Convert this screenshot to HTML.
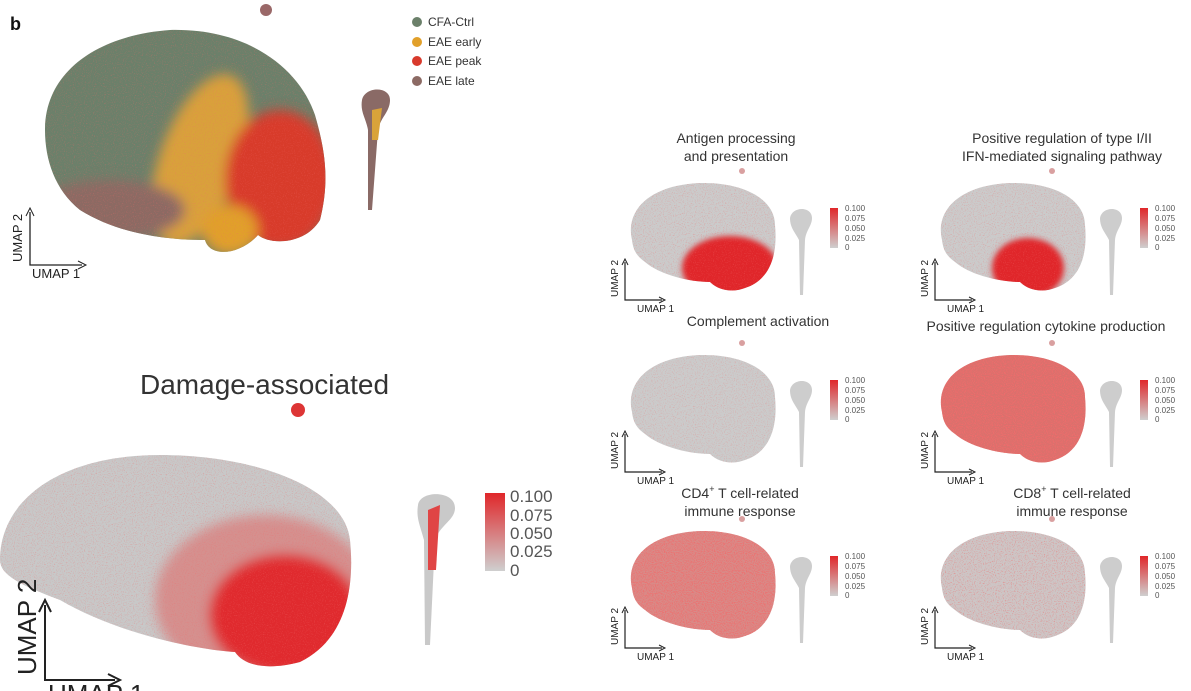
<!DOCTYPE html>
<html><head><meta charset="utf-8"><style>
body{margin:0;background:#fff;width:1191px;height:691px;overflow:hidden}
svg{display:block;font-family:"Liberation Sans",sans-serif}
</style></head><body>
<svg width="1191" height="691" viewBox="0 0 1191 691" xmlns="http://www.w3.org/2000/svg">
<defs>
<filter id="spk" x="0" y="0" width="100%" height="100%">
<feTurbulence type="fractalNoise" baseFrequency="0.9" numOctaves="1" seed="3"/>
<feColorMatrix values="0 0 0 0 0.88  0 0 0 0 0.15  0 0 0 0 0.15  4 0 0 0 -2.1"/>
</filter>
<filter id="spk2" x="0" y="0" width="100%" height="100%">
<feTurbulence type="fractalNoise" baseFrequency="0.9" numOctaves="1" seed="7"/>
<feColorMatrix values="0 0 0 0 0.88  0 0 0 0 0.15  0 0 0 0 0.15  4 0 0 0 -1.7"/>
</filter>
<filter id="bl" x="-30%" y="-30%" width="160%" height="160%"><feGaussianBlur stdDeviation="6"/></filter>
<filter id="bls" x="-30%" y="-30%" width="160%" height="160%"><feGaussianBlur stdDeviation="3"/></filter>
<linearGradient id="cb" x1="0" y1="0" x2="0" y2="1"><stop offset="0" stop-color="#e0272a"/><stop offset="1" stop-color="#cfcfcf"/></linearGradient>
<clipPath id="cs"><path d="M632,240 C625,210 650,185 700,183 C745,182 775,200 775,225 C778,255 770,280 745,288 C735,292 720,292 710,282 C690,282 660,275 645,262 C635,255 633,248 632,240Z"/></clipPath>
<clipPath id="cb1"><path d="M0,560 C0,500 60,455 160,455 C260,455 345,490 350,540 C355,590 345,640 300,662 C270,670 245,667 235,652 C200,650 120,635 60,600 C20,585 0,575 0,560Z"/></clipPath>
<clipPath id="ct"><path d="M45,130 C45,70 100,35 170,30 C250,28 300,70 315,115 C325,150 330,180 320,220 C305,245 270,245 258,235 C240,255 210,258 205,240 C170,240 120,235 80,210 C55,190 45,160 45,130Z"/></clipPath>
<g id="tail"><path d="M790,218 C792,206 812,206 812,218 C812,226 806,230 805,240 L803,295 L800,295 L799,240 C795,232 790,228 790,218Z" fill="#cdcdcd"/><circle cx="742" cy="171" r="3" fill="#d9a0a0"/></g>
<g id="cbar"><rect x="830" y="208" width="8" height="40" fill="url(#cb)"/>
<g font-size="8" fill="#555"><text x="845" y="211">0.100</text><text x="845" y="221">0.075</text><text x="845" y="231">0.050</text><text x="845" y="241">0.025</text><text x="845" y="250">0</text></g></g>
<g id="axs"><path d="M625,262 V300 H662" stroke="#222" stroke-width="1.2" fill="none"/><path d="M622,265 L625,259 L628,265 M659,297 L665,300 L659,303" stroke="#222" fill="none"/>
<text x="637" y="312" font-size="10" fill="#222">UMAP 1</text><text transform="translate(618,297) rotate(-90)" font-size="10" fill="#222">UMAP 2</text></g>
</defs>

<text x="10" y="30" font-size="18" font-weight="bold" fill="#111">b</text>

<g clip-path="url(#ct)">
<rect x="40" y="25" width="290" height="235" fill="#6b806a"/>
<g filter="url(#bl)">
<ellipse cx="200" cy="160" rx="40" ry="90" fill="#d9a13a" transform="rotate(20 200 160)"/>
<ellipse cx="280" cy="180" rx="55" ry="70" fill="#d83a2c"/>
<ellipse cx="230" cy="230" rx="28" ry="25" fill="#e1a02a"/>
<ellipse cx="110" cy="210" rx="75" ry="30" fill="#8c6a64"/>
</g>
<rect x="40" y="25" width="290" height="235" filter="url(#spk)" opacity="0.3"/>
</g>
<circle cx="266" cy="10" r="6" fill="#9a6868"/>
<path d="M362,100 C365,86 390,86 390,100 C390,112 380,118 378,130 L372,210 L368,210 L368,130 C366,118 360,112 362,100Z" fill="#8a6a66"/>
<path d="M372,110 L382,108 L378,140 L372,140Z" fill="#d9a33a"/>
<g font-size="12" fill="#333">
<circle cx="417" cy="22" r="5" fill="#6b806a"/><text x="428" y="26">CFA-Ctrl</text>
<circle cx="417" cy="42" r="5" fill="#e1a02a"/><text x="428" y="46">EAE early</text>
<circle cx="417" cy="61" r="5" fill="#d83a2c"/><text x="428" y="65">EAE peak</text>
<circle cx="417" cy="81" r="5" fill="#8c6a64"/><text x="428" y="85">EAE late</text>
</g>
<path d="M30,212 V265 H82" stroke="#222" stroke-width="1.3" fill="none"/>
<path d="M26,216 L30,208 L34,216 M78,261 L86,265 L78,269" stroke="#222" fill="none"/>
<text x="32" y="278" font-size="13" fill="#222">UMAP 1</text>
<text transform="translate(22,262) rotate(-90)" font-size="13" fill="#222">UMAP 2</text>

<text x="140" y="394" font-size="28" fill="#333">Damage-associated</text>
<circle cx="298" cy="410" r="7" fill="#dd3535"/>
<g clip-path="url(#cb1)">
<rect x="0" y="450" width="360" height="225" fill="#c8c8c8"/>
<g filter="url(#bl)">
<ellipse cx="265" cy="600" rx="110" ry="85" fill="#dd6a68" opacity="0.6"/>
<ellipse cx="285" cy="615" rx="75" ry="60" fill="#e02a2d"/>
</g>
<rect x="0" y="450" width="360" height="225" filter="url(#spk)" opacity="0.35"/>
</g>
<path d="M418,505 C420,490 455,490 455,508 C455,520 440,525 435,540 L430,645 L425,645 L424,540 C420,525 416,518 418,505Z" fill="#c9c9c9"/>
<path d="M428,510 L440,505 L436,570 L428,570Z" fill="#e04545"/>
<rect x="485" y="493" width="20" height="78" fill="url(#cb)"/>
<g font-size="17" fill="#555"><text x="510" y="502">0.100</text><text x="510" y="521">0.075</text><text x="510" y="539">0.050</text><text x="510" y="557">0.025</text><text x="510" y="576">0</text></g>
<path d="M45,605 V680 H115" stroke="#222" stroke-width="2" fill="none"/>
<path d="M39,612 L45,600 L51,612 M108,674 L120,680 L108,686" stroke="#222" stroke-width="2" fill="none"/>
<text transform="translate(36,675) rotate(-90)" font-size="26" fill="#222">UMAP 2</text>
<text x="48" y="703" font-size="26" fill="#222">UMAP 1</text>

<g font-size="14" fill="#333" text-anchor="middle">
<text x="736" y="143">Antigen processing</text><text x="736" y="161">and presentation</text>
<text x="1062" y="143">Positive regulation of type I/II</text><text x="1062" y="161">IFN-mediated signaling pathway</text>
<text x="758" y="326">Complement activation</text>
<text x="1046" y="331">Positive regulation cytokine production</text>
<text x="740" y="498">CD4<tspan font-size="9" dy="-6">+</tspan><tspan dy="6"> T cell-related</tspan></text><text x="740" y="516">immune response</text>
<text x="1072" y="498">CD8<tspan font-size="9" dy="-6">+</tspan><tspan dy="6"> T cell-related</tspan></text><text x="1072" y="516">immune response</text>
</g>

<g>
<use href="#tail"/><use href="#cbar"/><use href="#axs"/>
<g clip-path="url(#cs)"><rect x="625" y="180" width="155" height="115" fill="#cbcbcb"/><g filter="url(#bls)"><ellipse cx="730" cy="268" rx="48" ry="32" fill="#e0272a"/></g><rect x="625" y="180" width="155" height="115" filter="url(#spk)" opacity="0.35"/></g>
</g>
<g transform="translate(310,0)">
<use href="#tail"/><use href="#cbar"/><use href="#axs"/>
<g clip-path="url(#cs)"><rect x="625" y="180" width="155" height="115" fill="#cbcbcb"/><g filter="url(#bls)"><ellipse cx="718" cy="268" rx="36" ry="30" fill="#e0272a"/></g><rect x="625" y="180" width="155" height="115" filter="url(#spk)" opacity="0.35"/></g>
</g>
<g transform="translate(0,172)">
<use href="#tail"/><use href="#cbar"/><use href="#axs"/>
<g clip-path="url(#cs)"><rect x="625" y="180" width="155" height="115" fill="#cbcbcb"/><rect x="625" y="180" width="155" height="115" filter="url(#spk)" opacity="0.3"/></g>
</g>
<g transform="translate(310,172)">
<use href="#tail"/><use href="#cbar"/><use href="#axs"/>
<g clip-path="url(#cs)"><rect x="625" y="180" width="155" height="115" fill="#d9716d"/><rect x="625" y="180" width="155" height="115" filter="url(#spk2)" opacity="0.9"/></g>
</g>
<g transform="translate(0,348)">
<use href="#tail"/><use href="#cbar"/><use href="#axs"/>
<g clip-path="url(#cs)"><rect x="625" y="180" width="155" height="115" fill="#d88b88"/><rect x="625" y="180" width="155" height="115" filter="url(#spk2)" opacity="0.8"/></g>
</g>
<g transform="translate(310,348)">
<use href="#tail"/><use href="#cbar"/><use href="#axs"/>
<g clip-path="url(#cs)"><rect x="625" y="180" width="155" height="115" fill="#cdc5c5"/><rect x="625" y="180" width="155" height="115" filter="url(#spk)" opacity="0.55"/></g>
</g>
</svg>
</body></html>
